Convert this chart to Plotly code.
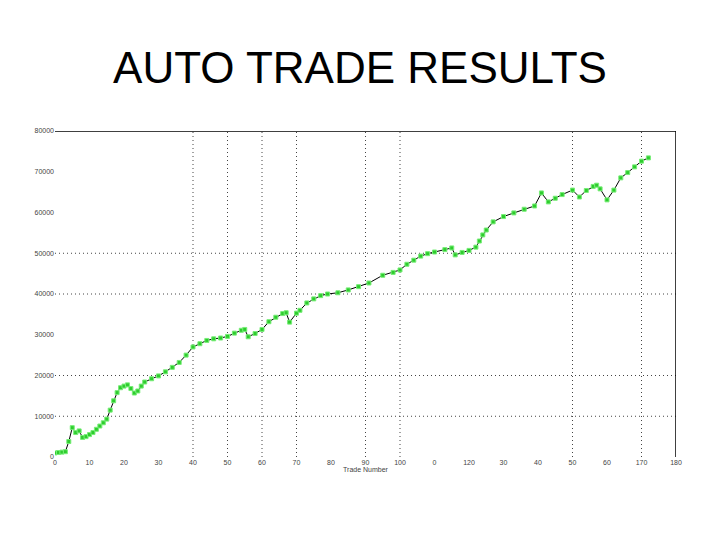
import plotly.graph_objects as go

# ---- data ----
trade_no = [0, 1, 2, 3, 4, 5, 6, 7, 8, 9, 10, 11, 12, 13, 14, 15, 16, 17, 18, 19,
            20, 21, 22, 23, 24, 25, 26, 28, 30, 32, 34, 36, 38, 40, 42, 44, 46, 48,
            50, 52, 54, 55, 56, 58, 60, 62, 64, 66, 67, 68, 70, 71, 73, 75, 77, 79,
            82, 85, 88, 91, 95, 98, 100, 102, 104, 106, 108, 110, 113, 115, 116,
            118, 120, 122, 123, 124, 125, 127, 130, 133, 136, 139, 141, 143, 145,
            147, 150, 152, 154, 156, 157, 158, 160, 162, 164, 166, 168, 170, 172]
balance_k = [1.0, 1.1, 1.2, 1.3, 3.8, 7.2, 6.0, 6.4, 4.8, 5.0, 5.5, 6.0, 6.8, 7.6,
             8.4, 9.3, 11.5, 13.8, 15.8, 17.0, 17.4, 17.7, 16.8, 15.7, 16.2, 17.4,
             18.4, 19.2, 19.9, 20.9, 22.0, 23.2, 25.0, 27.0, 27.8, 28.6, 29.0, 29.2,
             29.6, 30.4, 31.1, 31.3, 29.5, 30.3, 31.3, 33.2, 34.3, 35.2, 35.4, 33.1,
             35.3, 36.0, 37.8, 38.8, 39.6, 40.0, 40.3, 41.0, 41.8, 42.7, 44.6, 45.3,
             45.9, 47.3, 48.3, 49.3, 49.9, 50.3, 50.9, 51.3, 49.6, 50.2, 50.7, 51.5,
             53.0, 54.5, 55.7, 57.7, 59.0, 59.9, 60.8, 61.6, 64.8, 62.6, 63.5, 64.4,
             65.5, 63.8, 65.4, 66.4, 66.7, 65.8, 63.1, 65.5, 68.5, 69.8, 71.2, 72.6,
             73.4]
balance = [v * 1000 for v in balance_k]

x_tick_vals = [0, 10, 20, 30, 40, 50, 60, 70, 80, 90, 100, 110, 120, 130, 140,
               150, 160, 170, 180]
x_tick_text = ["0", "10", "20", "30", "40", "50", "60", "70", "80", "90", "100",
               "0", "120", "30", "40", "50", "60", "170", "180"]
y_tick_vals = [0, 10000, 20000, 30000, 40000, 50000, 60000, 70000, 80000]
y_tick_text = ["0", "10000", "20000", "30000", "40000", "50000", "60000", "70000", "80000"]
h_grid = [10000, 20000, 40000, 50000]
v_grid = [40, 50, 60, 70, 90, 100, 150, 170]

fig = go.Figure()
fig.add_trace(go.Scatter(
    x=trade_no, y=balance, mode="lines+markers",
    line=dict(color="black", width=1),
    marker=dict(symbol="square", size=4, color="#2ecc2e",
                line=dict(width=1, color="#77ee77")),
    showlegend=False, hoverinfo="skip"))

grid_line = dict(color="#444444", width=1, dash="1px,3px")
shapes = []
for h in h_grid:
    shapes.append(dict(type="line", xref="x", yref="y", x0=0, x1=180, y0=h, y1=h,
                       line=grid_line, layer="below"))
for v in v_grid:
    shapes.append(dict(type="line", xref="x", yref="y", x0=v, x1=v, y0=0, y1=80000,
                       line=grid_line, layer="below"))
shapes.append(dict(type="line", xref="x", yref="y", x0=0, x1=180, y0=80000, y1=80000,
                   line=dict(color="black", width=1.5)))
shapes.append(dict(type="line", xref="x", yref="y", x0=180, x1=180, y0=0, y1=80000,
                   line=dict(color="black", width=1.5)))

fig.update_layout(
    width=720, height=540,
    paper_bgcolor="white", plot_bgcolor="white",
    margin=dict(l=47, r=52, t=123, b=91, autoexpand=False),
    title=dict(text="AUTO TRADE RESULTS", x=352 / 720, xanchor="center",
               y=1 - 60 / 540, yanchor="middle",
               font=dict(family="Liberation Sans, Arial", size=44, color="black")),
    shapes=shapes,
    font=dict(family="Liberation Sans, Arial", size=7, color="#444444"),
)
fig.update_xaxes(range=[0, 180], tickvals=x_tick_vals, ticktext=x_tick_text,
                 showgrid=False, zeroline=False, showline=False, automargin=False,
                 ticks="", tickfont=dict(size=7, color="#444444"),
                 title=dict(text="Trade Number", font=dict(size=7, color="#444444"),
                            standoff=2))
fig.update_yaxes(range=[0, 80000], tickvals=y_tick_vals, ticktext=y_tick_text,
                 showgrid=False, zeroline=False, showline=False, automargin=False,
                 ticks="", tickfont=dict(size=7, color="#444444"))

fig.write_html("out.html")
